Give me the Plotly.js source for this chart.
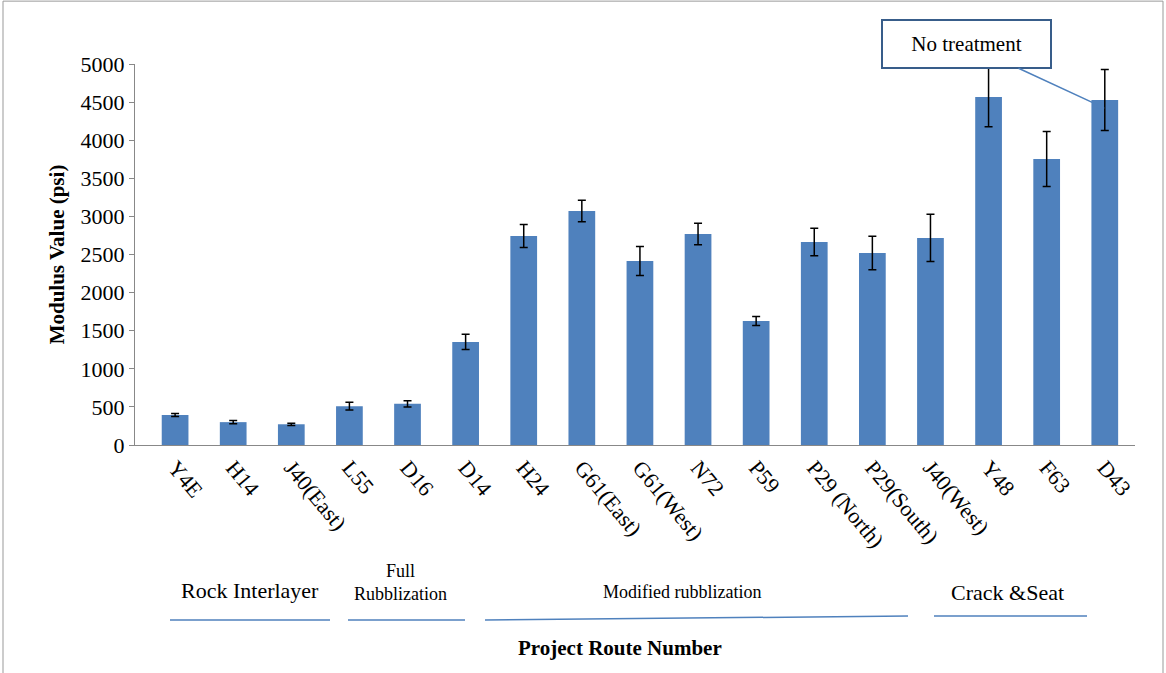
<!DOCTYPE html>
<html>
<head>
<script src="https://cdn.plot.ly/plotly-3.0.1.min.js"></script>
<style>body{margin:0}#chart{width:1166px;height:673px}</style>
</head>
<body>
<div id="chart"></div>
<script>
var routes = ['Y4E', 'H14', 'J40(East)', 'L55', 'D16', 'D14', 'H24', 'G61(East)', 'G61(West)',
  'N72', 'P59', 'P29 (North)', 'P29(South)', 'J40(West)', 'Y48', 'F63', 'D43'];
var modulus = [394, 300, 272, 510, 540, 1352, 2743, 3071, 2415, 2769, 1627, 2664, 2520, 2717, 4567, 3753, 4528];
var errors = [20, 20, 15, 50, 40, 100, 150, 140, 190, 140, 60, 180, 220, 310, 390, 360, 400];
var groups = ['Rock Interlayer', 'Full<br>Rubblization', 'Modified rubblization', 'Crack &Seat'];

var serif = 'Liberation Serif, Times New Roman, serif';

var trace = {
  x: routes, y: modulus, type: 'bar', width: 0.46,
  marker: {color: '#4f81bd'},
  error_y: {type: 'data', array: errors, visible: true, color: '#000', thickness: 1.5, width: 4}
};

function label(text, x, y, size, bold) {
  return {text: bold ? '<b>' + text + '</b>' : text, xref: 'paper', yref: 'paper', x: x, y: y,
    xanchor: 'center', yanchor: 'middle', showarrow: false,
    font: {family: serif, size: size, color: '#000'}};
}

var annotations = [
  label('Project Route Number', 0.485, -0.534, 21, true),
  label(groups[0], 0.115, -0.381, 22),
  label(groups[1], 0.265, -0.361, 18),
  label(groups[2], 0.547, -0.386, 18),
  label(groups[3], 0.872, -0.386, 22),
  {text: 'No treatment', x: 'D43', y: 4420, xref: 'x', yref: 'y', ax: -138, ay: -64,
   showarrow: true, arrowhead: 2, arrowsize: 1, arrowwidth: 1.5, arrowcolor: '#4f81bd',
   bordercolor: '#385d8a', borderwidth: 2, borderpad: 11, bgcolor: '#fff', width: 145,
   font: {family: serif, size: 21, color: '#000'}}
];

function line(x0, x1, y0, y1) {
  return {type: 'line', xref: 'paper', yref: 'paper', x0: x0, x1: x1, y0: y0, y1: y1,
    line: {color: '#4f81bd', width: 1.5}};
}
var shapes = [
  line(0.035, 0.195, -0.459, -0.459),
  line(0.213, 0.33, -0.459, -0.459),
  line(0.35, 0.773, -0.459, -0.449),
  line(0.799, 0.952, -0.449, -0.449),
  {type: 'rect', xref: 'paper', yref: 'paper', x0: -0.132, x1: 1.028, y0: -0.6, y1: 1.165,
   line: {color: '#999', width: 1}}
];

var layout = {
  width: 1166, height: 673,
  margin: {l: 135, r: 31, t: 64, b: 228},
  paper_bgcolor: '#fff', plot_bgcolor: '#fff',
  showlegend: false,
  font: {family: serif, color: '#000'},
  xaxis: {
    range: [-0.69, 16.52],
    tickangle: 50, tickfont: {family: serif, size: 22}, showline: true, linecolor: '#888',
    showgrid: false, ticks: ''
  },
  yaxis: {
    range: [0, 5000], dtick: 500, showgrid: false, showline: true, linecolor: '#888',
    ticks: 'outside', ticklen: 5, tickcolor: '#888', tickfont: {family: serif, size: 22},
    title: {text: '<b>Modulus Value (psi)</b>', font: {family: serif, size: 21}, standoff: 10}
  },
  annotations: annotations,
  shapes: shapes
};

Plotly.newPlot('chart', [trace], layout, {displayModeBar: false});
</script>
</body>
</html>
